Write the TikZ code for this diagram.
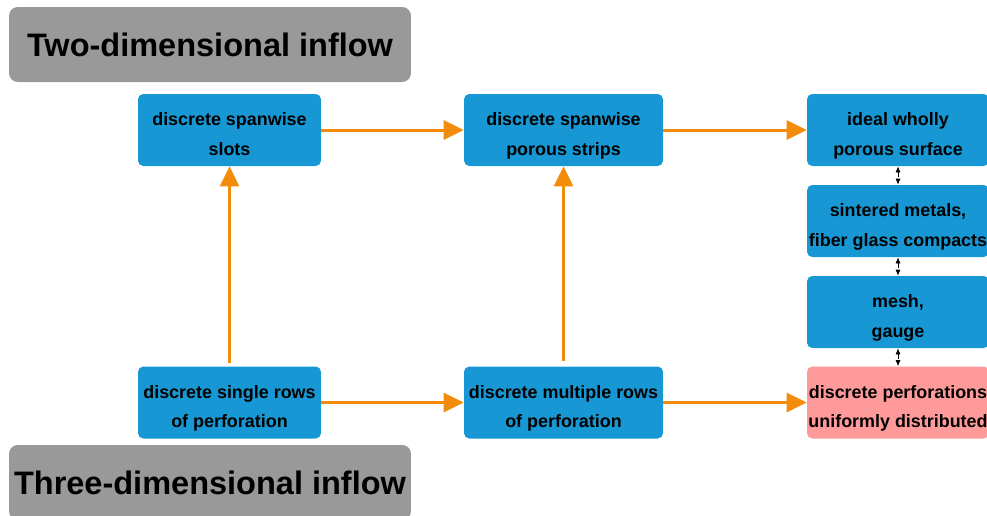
\documentclass[tikz,border=0pt]{standalone}
\usepackage{fontspec}
\setmainfont{Liberation Sans}
\usetikzlibrary{positioning,arrows.meta}
\definecolor{boxblue}{HTML}{1798D4}
\definecolor{flow}{HTML}{F28C0A}
\definecolor{pinkbox}{HTML}{FF9A9A}
\definecolor{titlegray}{HTML}{999999}

\begin{document}
\begin{tikzpicture}[
    x=0.02cm, y=-0.02cm,
    stage/.style={rectangle, rounded corners=3pt, fill=boxblue, align=center,
        minimum height=1.44cm, inner sep=0pt, text height=28.5pt, text depth=0pt,
        font=\bfseries\fontsize{10.2}{16.8}\selectfont},
    goal/.style={stage, fill=pinkbox},
    heading/.style={rectangle, rounded corners=5pt, fill=titlegray, inner sep=0pt,
        minimum width=8.04cm, minimum height=1.5cm,
        font=\bfseries\fontsize{18.5}{22}\selectfont},
    link/.style={draw=flow, line width=1.7pt, -{Triangle[length=0.4cm, width=0.38cm]}},
    tie/.style={draw=black, thin, dashed, {Latex[length=1.2mm,width=1mm]}-{Latex[length=1.2mm,width=1mm]}}
]
\useasboundingbox (0,0) rectangle (987,515);

% Headings
\node[heading] (twod) at (210,44.5) {Two-dimensional inflow};
\node[heading] (threed) at (210,482.5) {Three-dimensional inflow};

% Two-dimensional row
\node[stage, minimum width=3.66cm] (slots) at (229.5,130) {discrete spanwise\\slots};
\node[stage, minimum width=3.98cm] (strips) at (563.5,130) {discrete spanwise\\porous strips};
\node[stage, minimum width=3.64cm] (ideal) at (898,130) {ideal wholly\\porous surface};

% Right column (materials)
\node[stage, minimum width=3.64cm] (sinter) at (898,221) {sintered metals,\\fiber glass compacts};
\node[stage, minimum width=3.64cm] (mesh) at (898,312) {mesh,\\gauge};

% Three-dimensional row
\node[stage, minimum width=3.66cm] (single) at (229.5,402.5) {discrete single rows\\of perforation};
\node[stage, minimum width=3.98cm] (multi) at (563.5,402.5) {discrete multiple rows\\of perforation};
\node[goal, minimum width=3.64cm] (uniform) at (898,402.5) {discrete perforations\\uniformly distributed};

% Links
\draw[link] (slots) -- (strips);
\draw[link] (strips) -- (ideal);
\draw[link] (single) -- (multi);
\draw[link] (multi) -- (uniform);
\draw[link] (single.north) ++(0,-3) -- (slots.south);
\draw[link] (multi.north) ++(0,-5) -- (strips.south);

% Dashed ties
\draw[tie] (ideal.south) -- (sinter.north);
\draw[tie] (sinter.south) -- (mesh.north);
\draw[tie] (mesh.south) -- (uniform.north);

\end{tikzpicture}
\end{document}
